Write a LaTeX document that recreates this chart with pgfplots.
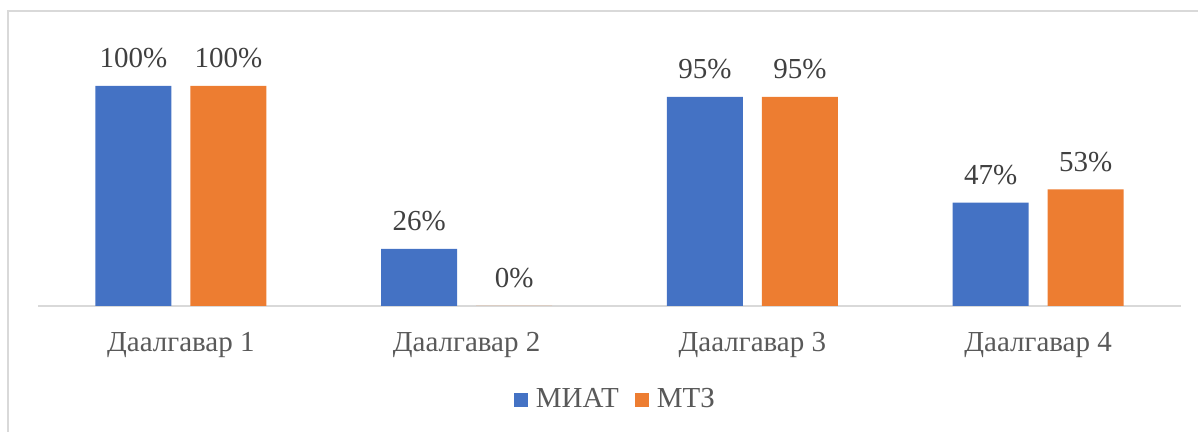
\documentclass[border=0pt]{standalone}
\usepackage{fontspec}
\setmainfont{Liberation Serif}
\usepackage{pgfplots}
\pgfplotsset{compat=1.18}
\definecolor{miat}{HTML}{4472C4}
\definecolor{mtz}{HTML}{ED7D31}
\definecolor{gridgray}{HTML}{D9D9D9}
\definecolor{lbl}{HTML}{404040}
\definecolor{cat}{HTML}{595959}
\newcommand{\chartfont}{\fontsize{14.5}{16}\selectfont}

\begin{document}
\begin{tikzpicture}
% 1px = 0.5pt; axis box bottom-left at (38px,306px) of the picture
\useasboundingbox (-19pt,-63pt) rectangle (580pt,153pt);
\draw[gridgray,line width=1pt] (-15pt,-63pt) -- (-15pt,147.25pt) -- (580pt,147.25pt);
\begin{axis}[at={(0,0)},anchor=south west,
  width=571.5pt,height=110pt,scale only axis,
  xmin=-0.5,xmax=3.5,ymin=0,ymax=100,
  enlargelimits=false,clip=false,
  ybar,bar width=38pt,
  axis x line*=bottom,axis y line=none,
  x axis line style={-,gridgray,line width=0.75pt},
  xtick={0,1,2,3},
  xticklabels={Даалгавар 1,Даалгавар 2,Даалгавар 3,Даалгавар 4},
  major tick length=0pt,ytick=\empty,
  xticklabel style={anchor=base,yshift=-23pt,inner sep=0pt,font=\chartfont,text=cat},
  /pgf/number format/assume math mode=true,
  nodes near coords={\pgfmathprintnumber{\pgfplotspointmeta}\%},
  every node near coord/.append style={anchor=base,inner sep=0pt,yshift=9pt,font=\chartfont,text=lbl},
  legend image code/.code={\fill[#1] (0pt,-3.5pt) rectangle (7pt,3.5pt);},
  legend style={at={(axis description cs:0.506,-0.4255)},anchor=center,draw=none,fill=none,
    legend columns=2,font=\chartfont,text=cat,
    /tikz/every odd column/.append style={column sep=2pt},
    /tikz/every even column/.append style={column sep=6pt}},
  legend cell align=left]
\addplot[fill=miat,draw=none,bar shift=-23.75pt] coordinates {(0,100) (1,26) (2,95) (3,47)};
\addplot[fill=mtz,draw=none,bar shift=23.75pt] coordinates {(0,100) (1,0) (2,95) (3,53)};
\legend{МИАТ,МТЗ}
\end{axis}
\end{tikzpicture}
\end{document}
